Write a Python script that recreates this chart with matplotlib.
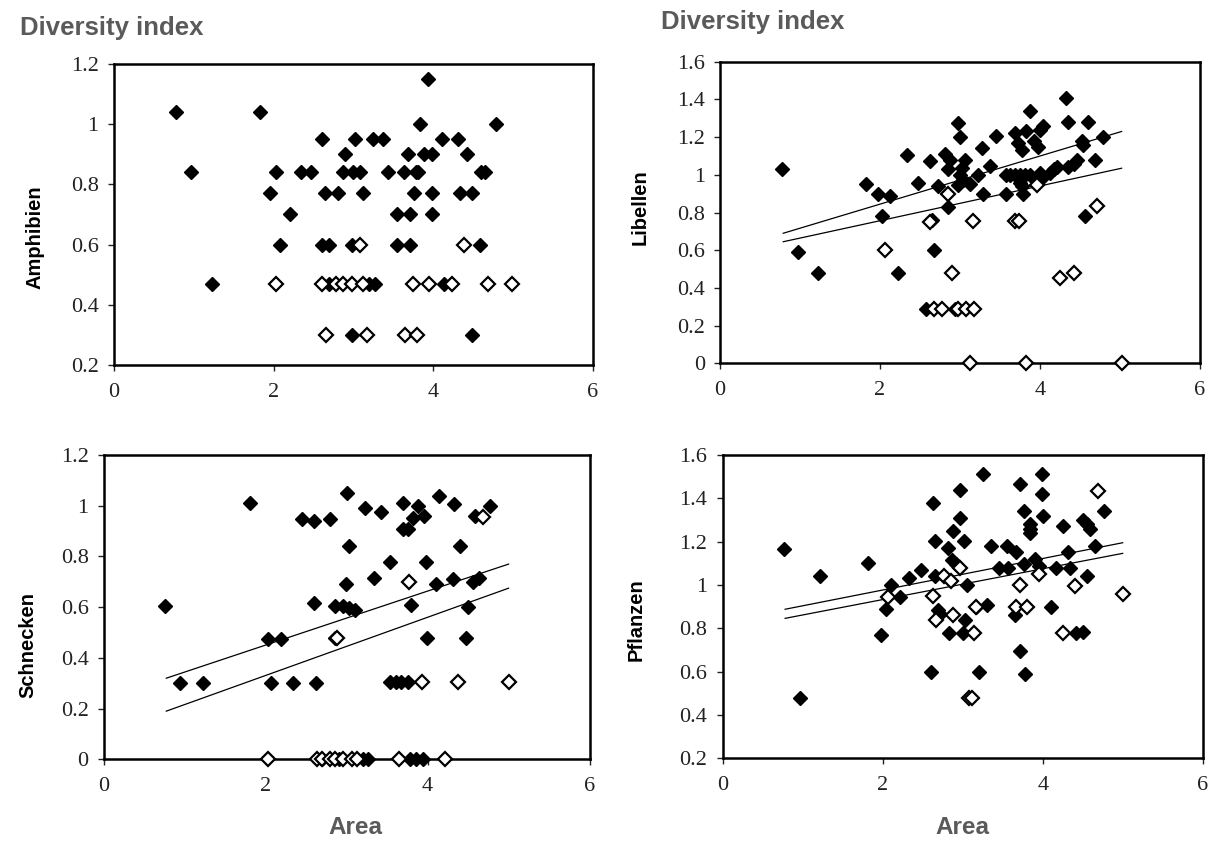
import matplotlib
matplotlib.use("Agg")
import matplotlib.pyplot as plt

# --- Données ---
x_ticks = [0, 2, 4, 6]
x_ticklabels = ["0", "2", "4", "6"]

# Amphibien
amph_fx = [0.78, 1.83, 0.96, 1.23, 2.03, 1.95, 2.21, 2.08,
           2.61, 3.02, 3.25, 3.37, 4.11, 4.31,
           2.89, 3.68, 3.89, 3.99, 4.42,
           2.34, 2.47, 2.87, 2.99, 3.08, 3.43, 3.63, 3.78, 3.81, 4.60, 4.65,
           2.64, 2.81, 3.12, 3.76, 3.99, 4.33, 4.49,
           3.55, 3.71, 3.99,
           2.61, 2.69, 2.98, 3.55, 3.71, 4.58,
           2.70, 3.19, 3.27, 4.13,
           2.98, 4.49,
           3.94, 3.84, 4.78]
amph_fy = [1.04, 1.04, 0.84, 0.47, 0.84, 0.77, 0.70, 0.60,
           0.95, 0.95, 0.95, 0.95, 0.95, 0.95,
           0.90, 0.90, 0.90, 0.90, 0.90,
           0.84, 0.84, 0.84, 0.84, 0.84, 0.84, 0.84, 0.84, 0.84, 0.84, 0.84,
           0.77, 0.77, 0.77, 0.77, 0.77, 0.77, 0.77,
           0.70, 0.70, 0.70,
           0.60, 0.60, 0.60, 0.60, 0.60, 0.60,
           0.47, 0.47, 0.47, 0.47,
           0.30, 0.30,
           1.15, 1.00, 1.00]
amph_ox = [2.03, 2.60, 2.78, 2.87, 2.98, 3.12, 3.74, 3.95, 4.24, 4.68, 4.99,
           3.08, 4.39,
           2.66, 3.17, 3.65, 3.80]
amph_oy = [0.47, 0.47, 0.47, 0.47, 0.47, 0.47, 0.47, 0.47, 0.47, 0.47, 0.47,
           0.60, 0.60,
           0.30, 0.30, 0.30, 0.30]

# Libellen
lib_fx = [0.78, 0.97, 1.23, 1.82, 1.98, 2.12, 2.03, 2.22,
          2.34, 2.63, 2.48, 2.72, 2.98, 3.00, 2.81, 2.875, 2.85, 3.06, 3.02, 3.00,
          3.04, 2.98, 3.125, 3.22, 3.27, 3.37, 3.45, 3.29, 2.85, 2.65, 2.67,
          3.69, 3.83, 3.87, 3.73, 3.77, 3.92, 3.97, 4.00, 4.04,
          3.58, 3.63, 3.69, 3.75, 3.81, 3.88, 3.58, 3.79, 3.75, 3.78,
          4.33, 4.35, 4.60, 4.52, 4.54, 4.79, 4.69, 4.35, 4.42, 4.46,
          4.12, 4.18, 4.21, 4.00, 4.04, 4.56,
          2.58, 2.94]
lib_fy = [1.03, 0.59, 0.48, 0.95, 0.90, 0.89, 0.78, 0.48,
          1.105, 1.075, 0.955, 0.94, 1.276, 1.20, 1.11, 1.08, 1.03, 1.08, 1.034, 1.00,
          0.97, 0.946, 0.95, 1.00, 1.14, 1.047, 1.206, 0.90, 0.83, 0.76, 0.60,
          1.22, 1.234, 1.34, 1.17, 1.13, 1.18, 1.15, 1.24, 1.26,
          1.00, 1.00, 1.00, 1.00, 1.00, 1.00, 0.90, 0.90, 0.955, 0.94,
          1.41, 1.28, 1.28, 1.18, 1.16, 1.20, 1.08, 1.04, 1.06, 1.08,
          1.01, 1.03, 1.04, 1.01, 0.99, 0.78,
          0.29, 0.29]
lib_ox = [2.06, 2.63, 2.85, 2.90, 3.16, 3.69, 3.74, 3.96, 4.71, 4.25, 4.42,
          2.67, 2.77, 2.98, 3.08, 3.17,
          3.13, 3.83, 5.02]
lib_oy = [0.60, 0.75, 0.90, 0.48, 0.755, 0.755, 0.755, 0.946, 0.835, 0.455, 0.48,
          0.29, 0.29, 0.29, 0.29, 0.29,
          0.0, 0.0, 0.0]
lib_line_x = [0.79, 5.02]
lib_line1_y = [0.69, 1.23]
lib_line2_y = [0.645, 1.035]

# Schnecken
schn_fx = [0.75, 0.94, 1.23, 1.81, 2.03, 2.19, 2.07, 2.34, 2.62, 2.45, 2.60, 2.79,
           3.00, 3.03, 2.99, 2.59, 2.86, 2.95, 3.03, 3.10, 2.85, 3.23, 3.34,
           3.42, 3.70, 3.88, 3.82, 3.96, 3.70, 3.76, 4.14, 4.32, 4.58, 4.77, 4.40,
           3.54, 3.98, 4.10, 4.31, 4.56, 4.63, 3.80, 4.50, 3.99, 4.48,
           3.53, 3.61, 3.67, 3.76,
           2.70, 2.90, 3.20, 3.26, 3.78, 3.86, 3.94]
schn_fy = [0.606, 0.30, 0.30, 1.01, 0.475, 0.475, 0.30, 0.30, 0.30, 0.948, 0.94, 0.948,
           1.05, 0.84, 0.69, 0.615, 0.605, 0.605, 0.595, 0.59, 0.477, 0.99, 0.714,
           0.977, 1.01, 1.00, 0.95, 0.96, 0.91, 0.91, 1.04, 1.007, 0.96, 1.00, 0.84,
           0.78, 0.78, 0.69, 0.71, 0.70, 0.714, 0.61, 0.60, 0.477, 0.477,
           0.306, 0.306, 0.306, 0.306,
           0.0, 0.0, 0.0, 0.0, 0.0, 0.0, 0.0]
schn_ox = [2.88, 4.68, 3.77, 3.93, 4.37, 5.00,
           2.03, 2.63, 2.69, 2.79, 2.86, 2.96, 3.07, 3.13, 3.65, 4.22]
schn_oy = [0.477, 0.957, 0.70, 0.306, 0.306, 0.306,
           0.0, 0.0, 0.0, 0.0, 0.0, 0.0, 0.0, 0.0, 0.0, 0.0]
schn_line_x = [0.77, 5.0]
schn_line1_y = [0.32, 0.77]
schn_line2_y = [0.19, 0.675]

# Pflanzen
pfl_fx = [0.77, 0.96, 1.22, 1.82, 1.98, 2.10, 2.04, 2.22, 2.33, 2.48,
          2.63, 2.65, 2.65, 2.69, 2.72, 2.60, 2.81, 2.88, 2.97, 2.97, 3.02,
          2.86, 2.92, 3.05, 2.83, 3.00, 3.03, 3.20, 3.26, 3.99, 3.72, 3.99,
          3.77, 4.01, 3.84, 3.84, 3.84, 4.26, 4.50, 4.55, 4.59, 4.77,
          3.36, 3.56, 3.67, 4.32, 4.66, 3.90, 3.45, 3.57, 3.77, 3.95, 4.17, 4.34,
          4.55, 3.17, 3.30, 4.11, 3.65, 4.42, 4.51, 3.72, 3.78]
pfl_fy = [1.165, 0.477, 1.04, 1.10, 0.77, 1.00, 0.89, 0.946, 1.03, 1.07,
          1.377, 1.204, 1.04, 0.885, 0.866, 0.60, 1.17, 1.25, 1.31, 1.44, 1.204,
          1.115, 1.097, 1.00, 0.78, 0.777, 0.84, 0.60, 1.51, 1.51, 1.466, 1.42,
          1.34, 1.32, 1.28, 1.26, 1.24, 1.27, 1.30, 1.28, 1.26, 1.34,
          1.18, 1.18, 1.15, 1.15, 1.18, 1.12, 1.08, 1.08, 1.097, 1.087, 1.08, 1.077,
          1.04, 0.90, 0.907, 0.90, 0.86, 0.777, 0.785, 0.697, 0.59]
pfl_ox = [2.06, 2.63, 2.67, 2.76, 2.85, 2.97, 2.88, 3.14, 3.17, 3.08, 3.12,
          3.95, 3.72, 4.41, 4.69, 5.00, 3.67, 3.80, 4.25]
pfl_oy = [0.946, 0.95, 0.84, 1.04, 1.02, 1.08, 0.86, 0.777, 0.90, 0.477, 0.477,
          1.05, 1.00, 0.997, 1.435, 0.957, 0.90, 0.90, 0.777]
pfl_line_x = [0.78, 5.0]
pfl_line1_y = [0.888, 1.195]
pfl_line2_y = [0.846, 1.146]

# --- Figure ---
fig = plt.figure(figsize=(12.2, 8.41), dpi=100)
serif = "Liberation Serif"
sans = "Liberation Sans"


def panel(rect, fx, fy, ox, oy, ylim, yticks, yticklabels, lines=None):
    ax = fig.add_axes(rect)
    if lines is not None:
        lx, ly1, ly2 = lines
        ax.plot(lx, ly1, color="black", lw=0.9, zorder=2)
        ax.plot(lx, ly2, color="black", lw=0.9, zorder=2)
    ax.plot(fx, fy, "D", color="black", ms=7, ls="none", clip_on=False, zorder=3)
    ax.plot(ox, oy, "D", mfc="white", mec="black", mew=1.6, ms=7, ls="none",
            clip_on=False, zorder=4)
    ax.set_xlim(0, 6)
    ax.set_ylim(*ylim)
    ax.set_xticks(x_ticks)
    ax.set_xticklabels(x_ticklabels, fontfamily=serif, fontsize=16)
    ax.set_yticks(yticks)
    ax.set_yticklabels(yticklabels, fontfamily=serif, fontsize=16)
    ax.tick_params(direction="out", length=4, width=1, colors="#222222")
    ax.tick_params(axis="y", pad=7)
    ax.tick_params(axis="x", pad=9)
    for s in ax.spines.values():
        s.set_linewidth(1.8)
    return ax


panel([0.0934, 0.566, 0.3926, 0.358], amph_fx, amph_fy, amph_ox, amph_oy,
      (0.2, 1.2), [0.2, 0.4, 0.6, 0.8, 1.0, 1.2], ["0.2", "0.4", "0.6", "0.8", "1", "1.2"])
panel([0.5902, 0.568, 0.3934, 0.3586], lib_fx, lib_fy, lib_ox, lib_oy,
      (0, 1.6), [0, 0.2, 0.4, 0.6, 0.8, 1.0, 1.2, 1.4, 1.6],
      ["0", "0.2", "0.4", "0.6", "0.8", "1", "1.2", "1.4", "1.6"],
      lines=(lib_line_x, lib_line1_y, lib_line2_y))
panel([0.0852, 0.0971, 0.398, 0.3618], schn_fx, schn_fy, schn_ox, schn_oy,
      (0, 1.2), [0, 0.2, 0.4, 0.6, 0.8, 1.0, 1.2], ["0", "0.2", "0.4", "0.6", "0.8", "1", "1.2"],
      lines=(schn_line_x, schn_line1_y, schn_line2_y))
panel([0.5924, 0.0983, 0.3934, 0.3607], pfl_fx, pfl_fy, pfl_ox, pfl_oy,
      (0.2, 1.6), [0.2, 0.4, 0.6, 0.8, 1.0, 1.2, 1.4, 1.6],
      ["0.2", "0.4", "0.6", "0.8", "1", "1.2", "1.4", "1.6"],
      lines=(pfl_line_x, pfl_line1_y, pfl_line2_y))


def px(x, y):
    return x / 1220, 1 - y / 841


gray = "#5a5a5a"
fig.text(*px(20, 28), "Diversity index", fontfamily=sans, fontweight="bold",
         fontsize=18.5, color=gray, ha="left", va="center")
fig.text(*px(661, 22), "Diversity index", fontfamily=sans, fontweight="bold",
         fontsize=18.5, color=gray, ha="left", va="center")
fig.text(*px(355, 828), "Area", fontfamily=sans, fontweight="bold",
         fontsize=17.5, color=gray, ha="center", va="center")
fig.text(*px(962, 828), "Area", fontfamily=sans, fontweight="bold",
         fontsize=17.5, color=gray, ha="center", va="center")

for (x, y, t) in [(35, 237, "Amphibien"), (640, 207, "Libellen"),
                  (28, 645, "Schnecken"), (636, 620, "Pflanzen")]:
    fig.text(*px(x, y), t, fontfamily=sans, fontweight="bold", fontsize=14.5,
             rotation=90, ha="center", va="center", color="black")

fig.savefig("out.png", dpi=100)
